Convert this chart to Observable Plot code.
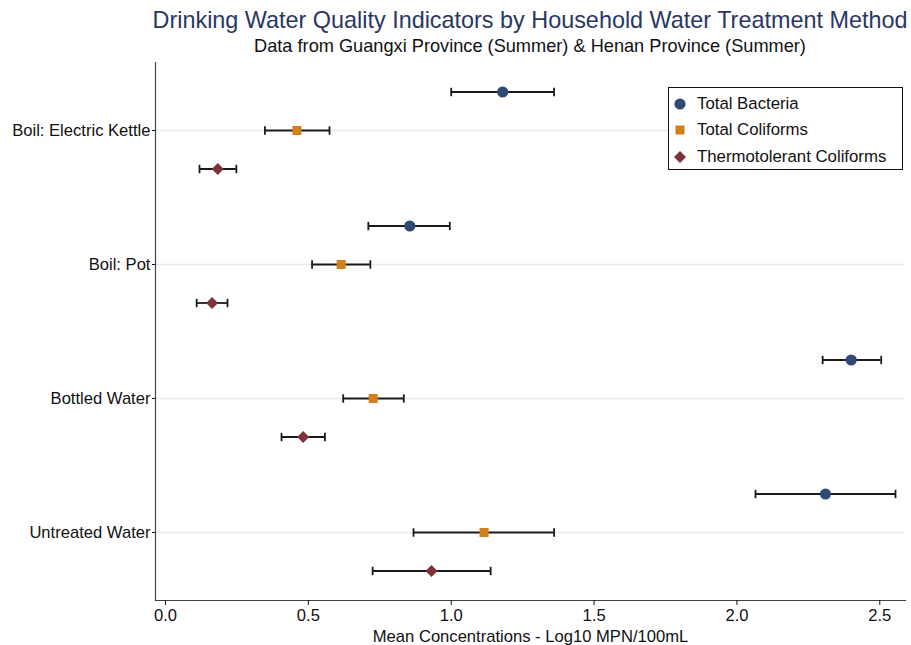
<!DOCTYPE html>
<html><head><meta charset="utf-8">
<script src="https://cdn.jsdelivr.net/npm/d3@7"></script>
<script src="https://cdn.jsdelivr.net/npm/@observablehq/plot@0.6"></script>
<style>
body{margin:0;background:#fff;font-family:"Liberation Sans",Arial,Helvetica,sans-serif;}
#wrap{position:relative;width:911px;height:645px;overflow:hidden;}
#head{height:56px;margin-left:130px;width:800px;text-align:center;}
#title{font-size:23.4px;color:#2a3763;padding-top:7px;line-height:26px;white-space:nowrap;}
#subtitle{font-size:18.2px;color:#111;line-height:20px;margin-top:3px;white-space:nowrap;}
#legend{position:absolute;left:668px;top:87px;width:235px;height:83px;border:1px solid #111;box-sizing:border-box;background:#fff;}
.li{position:absolute;left:0;height:20px;display:flex;align-items:center;font-size:16.8px;color:#111;white-space:nowrap;}
.li svg{margin-left:3px;margin-right:9px;}
</style></head>
<body><div id="wrap">
<div id="head"><div id="title">Drinking Water Quality Indicators by Household Water Treatment Method</div>
<div id="subtitle">Data from Guangxi Province (Summer) &amp; Henan Province (Summer)</div></div>
<div id="chart"></div>
<div id="legend"></div>
</div>
<script>
const categories = ["Boil: Electric Kettle", "Boil: Pot", "Bottled Water", "Untreated Water"];
const seriesNames = ["Total Bacteria", "Total Coliforms", "Thermotolerant Coliforms"];
const meanTB  = [1.18, 0.855, 2.40, 2.31];
const lowTB   = [1.00, 0.71, 2.30, 2.065];
const highTB  = [1.36, 0.995, 2.505, 2.555];
const meanTC  = [0.46, 0.615, 0.727, 1.115];
const lowTC   = [0.348, 0.513, 0.622, 0.868];
const highTC  = [0.574, 0.717, 0.834, 1.36];
const meanTTC = [0.183, 0.163, 0.482, 0.931];
const lowTTC  = [0.119, 0.109, 0.406, 0.725];
const highTTC = [0.248, 0.217, 0.558, 1.138];
const xTicks = [0, 0.5, 1.0, 1.5, 2.0, 2.5];

const styles = [
  {color: "#2e4a75", symbol: "circle", r: 5.6, dy: -38.5},
  {color: "#d0801f", symbol: "square", r: 5.1, dy: 0},
  {color: "#7a343a", symbol: "diamond2", r: 5.4, dy: 38.5}
];
const seriesData = [
  [meanTB, lowTB, highTB],
  [meanTC, lowTC, highTC],
  [meanTTC, lowTTC, highTTC]
];
const capSymbol = {draw(ctx, size) { const h = Math.sqrt(size / Math.PI); ctx.moveTo(0, -h); ctx.lineTo(0, h); }};

const marks = [Plot.gridY({stroke: "#e6eaea", strokeOpacity: 1, strokeWidth: 1.5})];
seriesNames.forEach((name, s) => {
  const [m, lo, hi] = seriesData[s];
  const st = styles[s];
  const rows = categories.map((c, i) => ({category: c, series: name, mean: m[i], lo: lo[i], hi: hi[i]}));
  marks.push(
    Plot.ruleY(rows, {y: "category", x1: "lo", x2: "hi", dy: st.dy, stroke: "#1a1a1a", strokeWidth: 1.8}),
    Plot.dot(rows, {y: "category", x: "lo", dy: st.dy, symbol: capSymbol, r: 4.2, stroke: "#1a1a1a", strokeWidth: 1.8, fill: "none"}),
    Plot.dot(rows, {y: "category", x: "hi", dy: st.dy, symbol: capSymbol, r: 4.2, stroke: "#1a1a1a", strokeWidth: 1.8, fill: "none"}),
    Plot.dot(rows, {y: "category", x: "mean", dy: st.dy, symbol: st.symbol, r: st.r, fill: st.color, stroke: "none"})
  );
});
marks.push(
  Plot.frame({anchor: "left", stroke: "#444", strokeWidth: 1.2}),
  Plot.frame({anchor: "bottom", stroke: "#444", strokeWidth: 1.2}),
  Plot.axisY({tickSize: 3, tickPadding: 2, label: null, fontSize: 16.6}),
  Plot.axisX({ticks: xTicks, tickFormat: d3.format(".1f"), tickSize: 5, tickPadding: 4, fontSize: 16.6,
    label: "Mean Concentrations - Log10 MPN/100mL", labelAnchor: "center", labelArrow: "none", labelOffset: 41})
);

const chart = Plot.plot({
  width: 911, height: 589,
  marginTop: 6, marginBottom: 45, marginLeft: 155, marginRight: 6,
  style: {fontFamily: "'Liberation Sans', Arial, Helvetica, sans-serif", fontSize: "16.6px", color: "#111", background: "#fff"},
  x: {domain: [-0.035, 2.59]},
  y: {type: "point", domain: categories, padding: 0.5},
  marks
});
document.getElementById("chart").appendChild(chart);

const legend = document.getElementById("legend");
const ltops = [5.5, 32, 58.5];
seriesNames.forEach((name, s) => {
  const st = styles[s];
  const div = document.createElement("div");
  div.className = "li";
  div.style.top = ltops[s] + "px";
  const sym = d3.symbol(st.symbol === "circle" ? d3.symbolCircle : st.symbol === "square" ? d3.symbolSquare : d3.symbolDiamond2, Math.PI * st.r * st.r)();
  div.innerHTML = `<svg width="16" height="16" viewBox="-8 -8 16 16"><path d="${sym}" fill="${st.color}"/></svg><span>${name}</span>`;
  legend.appendChild(div);
});
</script>
</body></html>
